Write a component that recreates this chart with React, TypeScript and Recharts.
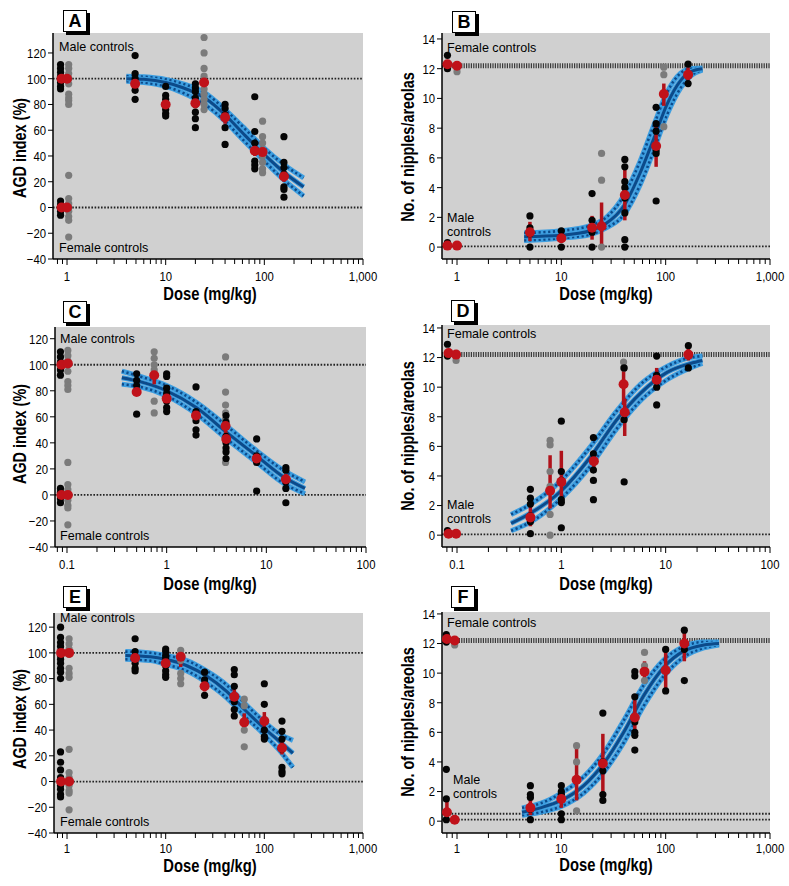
import React from 'react';
import { ComposedChart, XAxis, YAxis, Scatter, Line, ErrorBar, ReferenceLine, CartesianGrid } from 'recharts';

type Group = [number, number[]];
type Mean = [number, number, number, number];
type Curve = [number, number, number, number];

// ---------- Panel A ----------
const A_BLACK: Group[] = [
  [0.86, [111, 108, 105, 102, 100, 97, 94, 92, 5, 2, 0, -3, -6]],
  [4.9, [118, 104, 100, 96, 91, 84]],
  [10, [94, 87, 84, 80, 76, 73, 71]],
  [20, [96, 93, 90, 85, 80, 74, 69, 62]],
  [40, [80, 77, 72, 62, 49]],
  [80, [86, 59, 50, 44, 36, 33, 30]],
  [158, [55, 35, 31, 26, 16, 14, 8]],
];
const A_GRAY: Group[] = [
  [1.04, [111, 108, 104, 100, 96, 88, 85, 83, 80, 25, 7, 3, 0, -3, -7, -10, -23]],
  [24.5, [132, 120, 108, 102, 97, 92, 88, 84, 80, 76]],
  [96, [67, 55, 50, 45, 40, 35, 30, 27]],
];
const A_MEANS: Mean[] = [
  [0.88, 100, 97, 103], [1.0, 100, 97, 103], [0.88, 0, -2, 2], [1.0, 0, -2, 2],
  [4.9, 96, 92, 100], [10, 80, 77, 83], [20, 81, 77, 85], [24.5, 97, 92, 102],
  [40, 70, 65, 75], [80, 44, 40, 48], [96, 43, 39, 47], [158, 24, 20, 29],
];
const A_CURVE: Curve[] = [
  [4, 100, 98, 102], [6, 99.5, 97, 101.5], [10, 97, 94, 99.5], [15, 93, 89, 96],
  [25, 85, 80, 89], [40, 72, 67, 76], [60, 58, 53, 63], [100, 41, 36, 46],
  [160, 27, 21, 33], [250, 16, 9, 23],
];

// ---------- Panel B ----------
const B_BLACK: Group[] = [
  [0.81, [12.9, 12.0, 0.3]],
  [5, [2.1, 1.3, 0.9, 0.0]],
  [10, [1.1, 0.7, 0.0]],
  [19.7, [3.6, 1.8, 1.0, 0.0]],
  [40.6, [5.9, 5.4, 4.4, 4.0, 3.3, 2.3, 0.5, 0.0]],
  [81, [9.4, 8.3, 7.8, 6.5, 6.3, 3.1]],
  [164, [12.3, 11.0]],
];
const B_GRAY: Group[] = [
  [1.0, [11.8]],
  [24.3, [6.3, 4.5, 0.0]],
  [96, [12.1, 11.6, 8.1]],
];
const B_MEANS: Mean[] = [
  [0.81, 12.3, 12.1, 12.5], [1.0, 12.2, 12.0, 12.4], [0.81, 0.1, 0, 0.2], [1.0, 0.1, 0, 0.2],
  [5, 1.0, 0.4, 1.7], [10, 0.6, 0.3, 0.9], [19.7, 1.3, 0.5, 2.1], [24.3, 1.4, 0.1, 3.0],
  [40.6, 3.5, 1.8, 5.5], [81, 6.8, 5.4, 8.3], [96, 10.3, 9.5, 11.0], [164, 11.6, 11.2, 12.1],
];
const B_CURVE: Curve[] = [
  [4.4, 0.7, 0.45, 0.95], [10, 0.8, 0.6, 1.1], [19, 1.1, 0.85, 1.45], [27, 1.6, 1.3, 2.0],
  [40, 2.8, 2.2, 3.5], [57, 5.0, 4.2, 5.8], [77, 7.3, 6.5, 8.2], [103, 9.6, 8.9, 10.4],
  [139, 11.2, 10.7, 11.7], [173, 11.8, 11.5, 12.0], [225, 12.0, 11.9, 12.05],
];

// ---------- Panel C ----------
const C_BLACK: Group[] = [
  [0.086, [110, 106, 102, 100, 96, 92, 5, 2, 0, -3, -6]],
  [0.5, [93, 88, 84, 80, 62]],
  [1, [93, 91, 82, 78, 72, 67, 64]],
  [1.97, [83, 64, 57, 50, 46]],
  [3.94, [61, 56, 45, 40, 36, 33, 28]],
  [8, [43, 30, 25, 3]],
  [15.7, [21, 19, 10, 5, -6]],
];
const C_GRAY: Group[] = [
  [0.102, [111, 107, 103, 100, 95, 87, 84, 81, 25, 8, 4, 0, -4, -8, -10, -23]],
  [0.75, [110, 105, 100, 96, 92, 72, 63]],
  [3.9, [106, 79, 69, 63, 58, 25]],
];
const C_MEANS: Mean[] = [
  [0.088, 100, 97, 103], [0.102, 101, 98, 104], [0.088, 0, -2, 2], [0.102, 0, -2, 2],
  [0.5, 79, 76, 82], [0.75, 92, 85, 100], [1, 74, 70, 78], [1.97, 61, 57, 65],
  [3.9, 53, 47, 60], [3.96, 43, 38, 48], [8, 28, 24, 32], [15.7, 12, 8, 16],
];
const C_CURVE: Curve[] = [
  [0.355, 90, 85, 95], [0.54, 87, 83, 91], [1, 80, 76, 84], [2, 67, 62, 71],
  [4, 48, 43, 53], [8, 30, 25, 34], [14.8, 14, 9, 19], [24.4, 5, 1, 10],
];

// ---------- Panel D ----------
const D_BLACK: Group[] = [
  [0.081, [12.9, 12.1, 0.3]],
  [0.505, [3.1, 2.5, 2.1, 1.3, 0.9, 0.1]],
  [1, [7.7, 4.3, 3.7, 2.4, 2.2, 0.5]],
  [2.03, [6.6, 5.5, 4.4, 3.7, 2.4]],
  [4.0, [11.3, 8.3, 7.8, 3.6]],
  [8.2, [12.1, 10.8, 10.0, 8.8]],
  [16.5, [12.8, 11.3]],
];
const D_GRAY: Group[] = [
  [0.098, [11.8]],
  [0.78, [6.4, 6.1, 4.3, 3.3, 1.4, 0.0]],
  [3.95, [11.7, 11.3, 7.8]],
];
const D_MEANS: Mean[] = [
  [0.083, 12.3, 12.1, 12.5], [0.098, 12.2, 12.0, 12.4], [0.083, 0.1, 0, 0.2], [0.098, 0.1, 0, 0.2],
  [0.505, 1.2, 0.6, 2.0], [0.78, 3.0, 1.8, 5.4], [1.0, 3.6, 2.3, 5.7], [2.05, 5.0, 4.3, 5.7],
  [3.95, 10.2, 8.8, 11.3], [4.05, 8.3, 6.7, 9.2], [8.2, 10.5, 9.8, 11.3], [16.5, 12.2, 11.8, 12.6],
];
const D_CURVE: Curve[] = [
  [0.33, 0.8, 0.3, 1.4], [0.51, 1.5, 0.9, 2.1], [1, 3.0, 2.5, 3.7], [1.91, 5.3, 4.7, 6.0],
  [3.4, 7.8, 7.2, 8.4], [5.76, 9.6, 9.1, 10.2], [10.3, 11.0, 10.5, 11.4], [17.3, 11.6, 11.3, 12.0],
  [22.5, 11.8, 11.6, 12.1],
];

// ---------- Panel E ----------
const E_BLACK: Group[] = [
  [0.86, [120, 112, 108, 105, 101, 98, 95, 92, 88, 85, 80, 23, 15, 9, 3, 0, -3, -6, -10, -12]],
  [4.9, [111, 101, 96, 92, 88, 86]],
  [10, [103, 101, 98, 96, 90, 86, 83, 81]],
  [24.8, [85, 79, 74, 67]],
  [49.6, [87, 83, 74, 62, 56, 51]],
  [100, [76, 60, 47, 40, 35, 33]],
  [151, [47, 39, 33, 25, 11, 8, 6]],
];
const E_GRAY: Group[] = [
  [1.05, [111, 107, 103, 99, 88, 84, 81, 25, 7, 3, 0, -3, -7, -9, -22]],
  [14.2, [102, 98, 94, 84, 80, 76]],
  [62.6, [64, 59, 40, 27]],
];
const E_MEANS: Mean[] = [
  [0.87, 100, 97, 103], [1.05, 100, 97, 103], [0.87, 0, -2, 2], [1.05, 0, -2, 2],
  [4.9, 96, 93, 99], [10, 92, 89, 95], [14.2, 97, 89, 103], [24.8, 74, 70, 78],
  [49.6, 66, 60, 72], [62.6, 46, 39, 53], [100, 47, 40, 54], [151, 26, 21, 31],
];
const E_CURVE: Curve[] = [
  [3.9, 98, 95, 101], [7, 97, 94, 100], [10, 95, 91, 98], [16.4, 90, 86, 94],
  [26, 82, 77, 86], [41.5, 70, 65, 75], [61, 57, 52, 62], [98, 42, 37, 47],
  [143, 31, 24, 37], [195, 22, 11, 32],
];

// ---------- Panel F ----------
const F_BLACK: Group[] = [
  [0.79, [12.6, 12.1, 3.5, 1.5, 0.1]],
  [5.05, [2.4, 1.8, 1.6, 0.8, 0.1]],
  [10, [2.4, 2.0, 1.8, 0.5, 0.1]],
  [25, [7.3, 4.0, 3.4, 1.8, 1.4]],
  [50.6, [10.1, 9.8, 8.4, 6.7, 6.0, 5.8, 4.8]],
  [100, [11.6, 10.2, 8.8]],
  [151, [12.9, 11.6, 9.5]],
];
const F_GRAY: Group[] = [
  [0.95, [11.9]],
  [14, [5.1, 4.0, 2.8, 0.7]],
  [62.7, [11.4, 10.5, 9.5]],
];
const F_MEANS: Mean[] = [
  [0.8, 12.3, 12.1, 12.5], [0.95, 12.2, 12.0, 12.4], [0.8, 0.6, 0, 1.4], [0.95, 0.1, 0, 0.2],
  [5.05, 0.9, 0.4, 1.6], [10, 1.5, 0.9, 2.0], [14, 2.8, 1.4, 5.1], [25, 3.9, 1.9, 5.9],
  [50.6, 7.0, 5.8, 8.2], [62.7, 10.1, 9.4, 10.8], [100, 10.2, 8.8, 11.6], [151, 12.0, 10.8, 12.9],
];
const F_CURVE: Curve[] = [
  [4.2, 0.6, 0.4, 0.9], [6.3, 0.9, 0.6, 1.2], [10, 1.4, 1.0, 1.9], [16.4, 2.4, 1.9, 3.0],
  [25.5, 3.9, 3.3, 4.6], [39.6, 6.0, 5.3, 6.8], [61.8, 8.5, 7.8, 9.2], [96, 10.4, 9.8, 10.9],
  [150, 11.5, 11.1, 11.8], [232, 11.9, 11.7, 12.1], [325, 12.0, 11.9, 12.1],
];

// ---------- Axis ticks ----------
const TICKS_1000 = [0.8, 0.9, 1, 2, 3, 4, 5, 6, 7, 8, 9, 10, 20, 30, 40, 50, 60, 70, 80, 90, 100, 200, 300, 400, 500, 600, 700, 800, 900, 1000];
const MAJOR_1000 = [1, 10, 100, 1000];
const TICKS_100 = [0.08, 0.09, 0.1, 0.2, 0.3, 0.4, 0.5, 0.6, 0.7, 0.8, 0.9, 1, 2, 3, 4, 5, 6, 7, 8, 9, 10, 20, 30, 40, 50, 60, 70, 80, 90, 100];
const MAJOR_100 = [0.1, 1, 10, 100];
const AGD_TICKS = [-40, -20, 0, 20, 40, 60, 80, 100, 120];
const NIP_TICKS = [0, 2, 4, 6, 8, 10, 12, 14];

const AGD_LINES = [100, 0];
const NIP_LINES_BD = [0.05];
const NIP_LINES_F = [0.5, 0.1];
const FEMALE_NIP = 12.2;

const FONT = '"Liberation Sans", Arial, Helvetica, sans-serif';
const SQ = 0.84; // horizontal condensing factor

const flat = (g: Group[]) => g.flatMap(([x, ys]) => ys.map((y) => ({ x, y })));
const toMeans = (m: Mean[]) => m.map(([x, y, lo, hi]) => ({ x, y, err: [y - lo, hi - y] }));
const toCurve = (c: Curve[]) => c.map(([x, y, lo, hi]) => ({ x, y, lo, hi }));

const fmtX = (v: number) => (v >= 1000 ? v.toLocaleString('en-US') : String(v));
const fmtY = (v: number) => (v < 0 ? '\u2212' + Math.abs(v) : String(v));

const dot = (fill: string, r: number) => (p: any) => (
  <circle cx={p.cx} cy={p.cy} r={r} fill={fill} />
);

const YTick = (t: any) => (
  <text
    transform={`translate(${t.x},${t.y}) scale(${SQ},1)`}
    dy="0.36em"
    textAnchor="end"
    fontFamily={FONT}
    fontSize={13.5}
    fill="#000"
  >
    {fmtY(t.payload.value)}
  </text>
);

type PanelProps = {
  rect: [number, number, number, number];
  xDomain: [number, number];
  yDomain: [number, number];
  xTicks: number[];
  xMajor: number[];
  yTicks: number[];
  black: Group[];
  gray: Group[];
  means: Mean[];
  curve: Curve[];
  thinLines: number[];
  thickLine?: number;
  labelGap: number;
};

const Panel = (p: PanelProps) => {
  const [x0, y0, x1, y1] = p.rect;
  const W = x1 - x0 + 75;
  const H = y1 - y0 + 50;
  const axisY = y1 - y0 + 10;
  const majors = new Set(p.xMajor);
  const XTick = (t: any) => {
    const v = t.payload.value;
    const major = majors.has(v);
    return (
      <g>
        <line x1={t.x} x2={t.x} y1={axisY} y2={axisY + (major ? 6 : 5)} stroke="#000" strokeWidth={1} />
        {major && (
          <text
            transform={`translate(${t.x},${axisY + p.labelGap}) scale(${SQ},1)`}
            textAnchor="middle"
            fontFamily={FONT}
            fontSize={13.5}
            fill="#000"
          >
            {fmtX(v)}
          </text>
        )}
      </g>
    );
  };
  const curve = toCurve(p.curve);
  return (
    <div style={{ position: 'absolute', left: x0 - 50, top: y0 - 10 }}>
      <ComposedChart width={W} height={H} margin={{ top: 10, right: 25, bottom: 10, left: 10 }}>
        <CartesianGrid horizontal={false} vertical={false} fill="#d0d0d0" />
        <XAxis
          type="number"
          dataKey="x"
          scale="log"
          domain={p.xDomain}
          allowDataOverflow
          ticks={p.xTicks}
          interval={0}
          tick={<XTick />}
          tickLine={false}
          tickSize={0}
          tickMargin={0}
          height={30}
          axisLine={{ stroke: '#000', strokeWidth: 1.5 }}
        />
        <YAxis
          type="number"
          dataKey="y"
          domain={p.yDomain}
          allowDataOverflow
          ticks={p.yTicks}
          interval={0}
          width={40}
          tick={<YTick />}
          tickSize={5}
          tickMargin={2}
          tickLine={{ stroke: '#000', strokeWidth: 1 }}
          axisLine={{ stroke: '#000', strokeWidth: 1.5 }}
        />
        {p.thickLine !== undefined && (
          <ReferenceLine y={p.thickLine} stroke="#3a3a3a" strokeWidth={5} strokeDasharray="1.2 1.2" />
        )}
        {p.thinLines.map((v) => (
          <ReferenceLine key={v} y={v} stroke="#222" strokeWidth={1.8} strokeDasharray="1.6 1.6" />
        ))}
        <Scatter data={flat(p.gray)} fill="#7b7b7b" shape={dot('#7b7b7b', 3.6)} isAnimationActive={false} />
        <Scatter data={flat(p.black)} fill="#050505" shape={dot('#050505', 3.6)} isAnimationActive={false} />
        <Line data={curve} dataKey="hi" type="monotone" stroke="#3d9ee0" strokeWidth={5} dot={false} isAnimationActive={false} />
        <Line data={curve} dataKey="lo" type="monotone" stroke="#3d9ee0" strokeWidth={5} dot={false} isAnimationActive={false} />
        <Line data={curve} dataKey="hi" type="monotone" stroke="#0c4a8a" strokeWidth={2.6} strokeDasharray="2.2 2.6" dot={false} isAnimationActive={false} />
        <Line data={curve} dataKey="lo" type="monotone" stroke="#0c4a8a" strokeWidth={2.6} strokeDasharray="2.2 2.6" dot={false} isAnimationActive={false} />
        <Line data={curve} dataKey="y" type="monotone" stroke="#3d9ee0" strokeWidth={5} dot={false} isAnimationActive={false} />
        <Line data={curve} dataKey="y" type="monotone" stroke="#0c4a8a" strokeWidth={3} dot={false} isAnimationActive={false} />
        <Scatter data={toMeans(p.means)} fill="#c0121a" shape={dot('#c0121a', 5)} isAnimationActive={false}>
          <ErrorBar dataKey="err" direction="y" width={0} stroke="#b0121a" strokeWidth={3.5} />
        </Scatter>
      </ComposedChart>
    </div>
  );
};

const Letter = ({ ch, left, top }: { ch: string; left: number; top: number }) => (
  <div
    style={{
      position: 'absolute', left, top, width: 22, height: 20, border: '1.5px solid #000',
      boxShadow: '3px 3px 0 #000', background: '#fff', fontFamily: FONT, fontWeight: 'bold',
      fontSize: 18, lineHeight: '20px', textAlign: 'center', color: '#000',
    }}
  >
    {ch}
  </div>
);

const Txt = ({ children, left, top }: any) => (
  <div
    style={{
      position: 'absolute', left, top, fontFamily: FONT, fontSize: 13.5, lineHeight: '14px',
      color: '#000', whiteSpace: 'nowrap', transform: 'scaleX(0.93)', transformOrigin: 'left top',
    }}
  >
    {children}
  </div>
);

const Center = ({ children, cx, top }: any) => (
  <div
    style={{
      position: 'absolute', left: cx, top, transform: `translateX(-50%) scaleX(${0.82})`, fontFamily: FONT,
      fontSize: 18, lineHeight: '16px', fontWeight: 'bold', whiteSpace: 'nowrap', color: '#000',
    }}
  >
    {children}
  </div>
);

const VTitle = ({ children, cx, cy }: any) => (
  <div
    style={{
      position: 'absolute', left: cx, top: cy,
      transform: 'translate(-50%, -50%) rotate(-90deg) scaleX(0.8)',
      fontFamily: FONT, fontSize: 18, lineHeight: '18px', fontWeight: 'bold', whiteSpace: 'nowrap', color: '#000',
    }}
  >
    {children}
  </div>
);

export default function App() {
  return (
    <div style={{ position: 'absolute', left: 0, top: 0, width: 789, height: 886, background: '#fff', overflow: 'hidden' }}>
      <Panel rect={[53, 33, 363, 259]} xDomain={[0.721, 1000]} yDomain={[-40, 135.5]}
        xTicks={TICKS_1000} xMajor={MAJOR_1000} yTicks={AGD_TICKS} labelGap={22}
        black={A_BLACK} gray={A_GRAY} means={A_MEANS} curve={A_CURVE} thinLines={AGD_LINES} />
      <Panel rect={[442, 33, 770, 259]} xDomain={[0.718, 1000]} yDomain={[-0.8, 14.4]}
        xTicks={TICKS_1000} xMajor={MAJOR_1000} yTicks={NIP_TICKS} labelGap={22}
        black={B_BLACK} gray={B_GRAY} means={B_MEANS} curve={B_CURVE} thinLines={NIP_LINES_BD} thickLine={FEMALE_NIP} />
      <Panel rect={[55, 327, 366, 547]} xDomain={[0.0758, 100]} yDomain={[-40, 129]}
        xTicks={TICKS_100} xMajor={MAJOR_100} yTicks={AGD_TICKS} labelGap={22}
        black={C_BLACK} gray={C_GRAY} means={C_MEANS} curve={C_CURVE} thinLines={AGD_LINES} />
      <Panel rect={[442, 325, 770, 547]} xDomain={[0.0718, 100]} yDomain={[-0.8, 14.2]}
        xTicks={TICKS_100} xMajor={MAJOR_100} yTicks={NIP_TICKS} labelGap={22}
        black={D_BLACK} gray={D_GRAY} means={D_MEANS} curve={D_CURVE} thinLines={NIP_LINES_BD} thickLine={FEMALE_NIP} />
      <Panel rect={[54, 613, 363, 833]} xDomain={[0.738, 1000]} yDomain={[-40, 131]}
        xTicks={TICKS_1000} xMajor={MAJOR_1000} yTicks={AGD_TICKS} labelGap={20}
        black={E_BLACK} gray={E_GRAY} means={E_MEANS} curve={E_CURVE} thinLines={AGD_LINES} />
      <Panel rect={[442, 612, 770, 833]} xDomain={[0.718, 1000]} yDomain={[-0.8, 14.13]}
        xTicks={TICKS_1000} xMajor={MAJOR_1000} yTicks={NIP_TICKS} labelGap={20}
        black={F_BLACK} gray={F_GRAY} means={F_MEANS} curve={F_CURVE} thinLines={NIP_LINES_F} thickLine={FEMALE_NIP} />

      <Letter ch="A" left={63} top={10} />
      <Letter ch="B" left={452} top={11} />
      <Letter ch="C" left={63} top={301} />
      <Letter ch="D" left={451} top={300} />
      <Letter ch="E" left={63} top={586} />
      <Letter ch="F" left={451} top={586} />

      <Txt left={59} top={40}>Male controls</Txt>
      <Txt left={59} top={241}>Female controls</Txt>
      <Txt left={447} top={41}>Female controls</Txt>
      <Txt left={447} top={211}>Male</Txt>
      <Txt left={447} top={225}>controls</Txt>

      <Txt left={60} top={332}>Male controls</Txt>
      <Txt left={60} top={529}>Female controls</Txt>
      <Txt left={447} top={327}>Female controls</Txt>
      <Txt left={447} top={498}>Male</Txt>
      <Txt left={447} top={512}>controls</Txt>

      <Txt left={60} top={611}>Male controls</Txt>
      <Txt left={60} top={815}>Female controls</Txt>
      <Txt left={447} top={616}>Female controls</Txt>
      <Txt left={453} top={773}>Male</Txt>
      <Txt left={453} top={787}>controls</Txt>

      <VTitle cx={20} cy={148}>AGD index (%)</VTitle>
      <VTitle cx={20} cy={434}>AGD index (%)</VTitle>
      <VTitle cx={20} cy={719}>AGD index (%)</VTitle>
      <VTitle cx={408} cy={147}>No. of nipples/areolas</VTitle>
      <VTitle cx={408} cy={436}>No. of nipples/areolas</VTitle>
      <VTitle cx={408} cy={722}>No. of nipples/areolas</VTitle>

      <Center cx={210} top={286}>Dose (mg/kg)</Center>
      <Center cx={606} top={286}>Dose (mg/kg)</Center>
      <Center cx={210} top={576}>Dose (mg/kg)</Center>
      <Center cx={606} top={576}>Dose (mg/kg)</Center>
      <Center cx={210} top={858}>Dose (mg/kg)</Center>
      <Center cx={606} top={857}>Dose (mg/kg)</Center>
    </div>
  );
}
